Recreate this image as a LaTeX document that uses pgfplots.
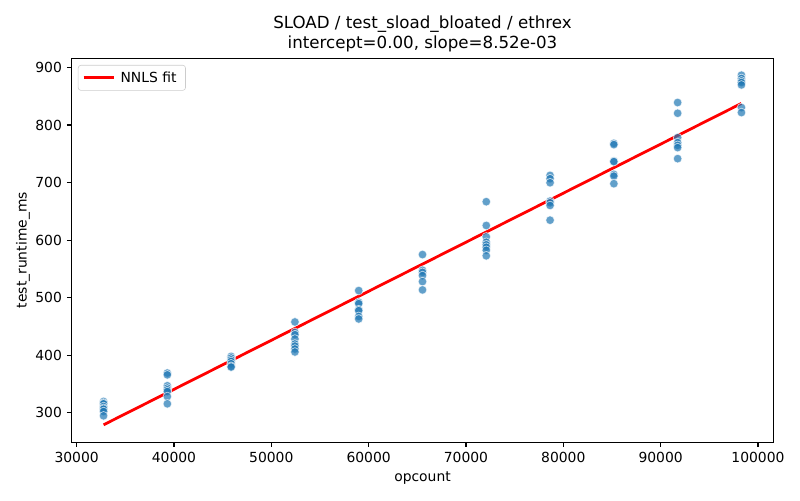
\documentclass[border=0pt]{standalone}
\usepackage{fontspec}
\setmainfont{DejaVu Sans}
\usepackage{pgfplots}
\pgfplotsset{compat=1.18}
\definecolor{tabblue}{HTML}{1F77B4}
\begin{document}
\begin{tikzpicture}
\begin{axis}[
  name=ax,
  scale only axis,
  width=505.2pt, height=276.3pt,
  xmin=29491, xmax=101581,
  ymin=249.2, ymax=915.9,
  xtick={30000,40000,50000,60000,70000,80000,90000,100000},
  ytick={300,400,500,600,700,800,900},
  scaled x ticks=false,
  xticklabel style={/pgf/number format/fixed, /pgf/number format/precision=0},
  /pgf/number format/1000 sep={},
  /pgf/number format/assume math mode=true,
  tick align=outside, tick pos=left,
  major tick length=3.5pt,
  every tick/.style={black, line width=0.8pt},
  axis line style={line width=0.8pt},
  ticklabel style={font=\fontsize{10}{12}\selectfont},
  xlabel={opcount}, ylabel={test\_runtime\_ms},
  label style={font=\fontsize{10}{12}\selectfont},
  ylabel style={xshift=0pt, yshift=-3pt},
  title={SLOAD / test\_sload\_bloated / ethrex\\intercept=0.00, slope=8.52e-03},
  title style={font=\fontsize{12}{14.4}\selectfont, align=center, yshift=-4.6pt},
  legend style={at={(0,1)}, anchor=north west, xshift=4.5pt, yshift=-4.8pt,
    draw=black!20, rounded corners=2pt, font=\fontsize{10}{12}\selectfont,
    inner xsep=3pt, inner ysep=2.5pt,
    nodes={inner xsep=3.5pt}},
  legend image code/.code={\draw[#1] (0pt,0pt) -- (22pt,0pt);},
  legend cell align=left,
]
\addplot[only marks, mark=*, mark size=3.1pt,
  mark options={fill=tabblue, draw=white, line width=0.5pt, fill opacity=0.7, draw opacity=0.7},
  forget plot] coordinates {
(32768,319.7) (32768,317) (32768,315.7) (32768,311) (32768,308) (32768,306.4) (32768,302.3) (32768,294.8)
(39322,369.1) (39322,366) (39322,347) (39322,343) (39322,340) (39322,337) (39322,328.4) (39322,315.7)
(45875,398) (45875,395.2) (45875,392) (45875,389.3) (45875,385.3) (45875,381) (45875,379.5)
(52429,457.9) (52429,439.8) (52429,435.8) (52429,428.3) (52429,419.6) (52429,416) (52429,410.9) (52429,405.7)
(58982,512.4) (58982,492) (58982,489.7) (58982,479.3) (58982,477.5) (58982,467.6) (58982,463.1)
(65536,575) (65536,547.7) (65536,544.2) (65536,538.5) (65536,528) (65536,513.6)
(72090,666.8) (72090,625.5) (72090,605.8) (72090,596.4) (72090,591.9) (72090,587.7) (72090,582.5) (72090,572.8)
(78643,712.5) (78643,706.8) (78643,699.8) (78643,667.8) (78643,665) (78643,660.3) (78643,634.7)
(85197,768.2) (85197,766) (85197,737.4) (85197,736.4) (85197,714.3) (85197,711.3) (85197,698.1)
(91750,839.1) (91750,820.5) (91750,778.2) (91750,769.5) (91750,764.8) (91750,760.8) (91750,741.6)
(98304,886.6) (98304,880.9) (98304,876.7) (98304,873.9) (98304,869.7) (98304,830.4) (98304,821.7)
};
\addplot[red, line width=2pt, no marks] coordinates {(32768,279.18) (98304,837.55)};
\addlegendentry{NNLS fit}
\end{axis}
\pgfresetboundingbox
\path[use as bounding box] ([shift={(-51.6pt,-41.76pt)}]ax.south west) rectangle ([shift={(19.2pt,42pt)}]ax.north east);
\end{tikzpicture}
\end{document}
